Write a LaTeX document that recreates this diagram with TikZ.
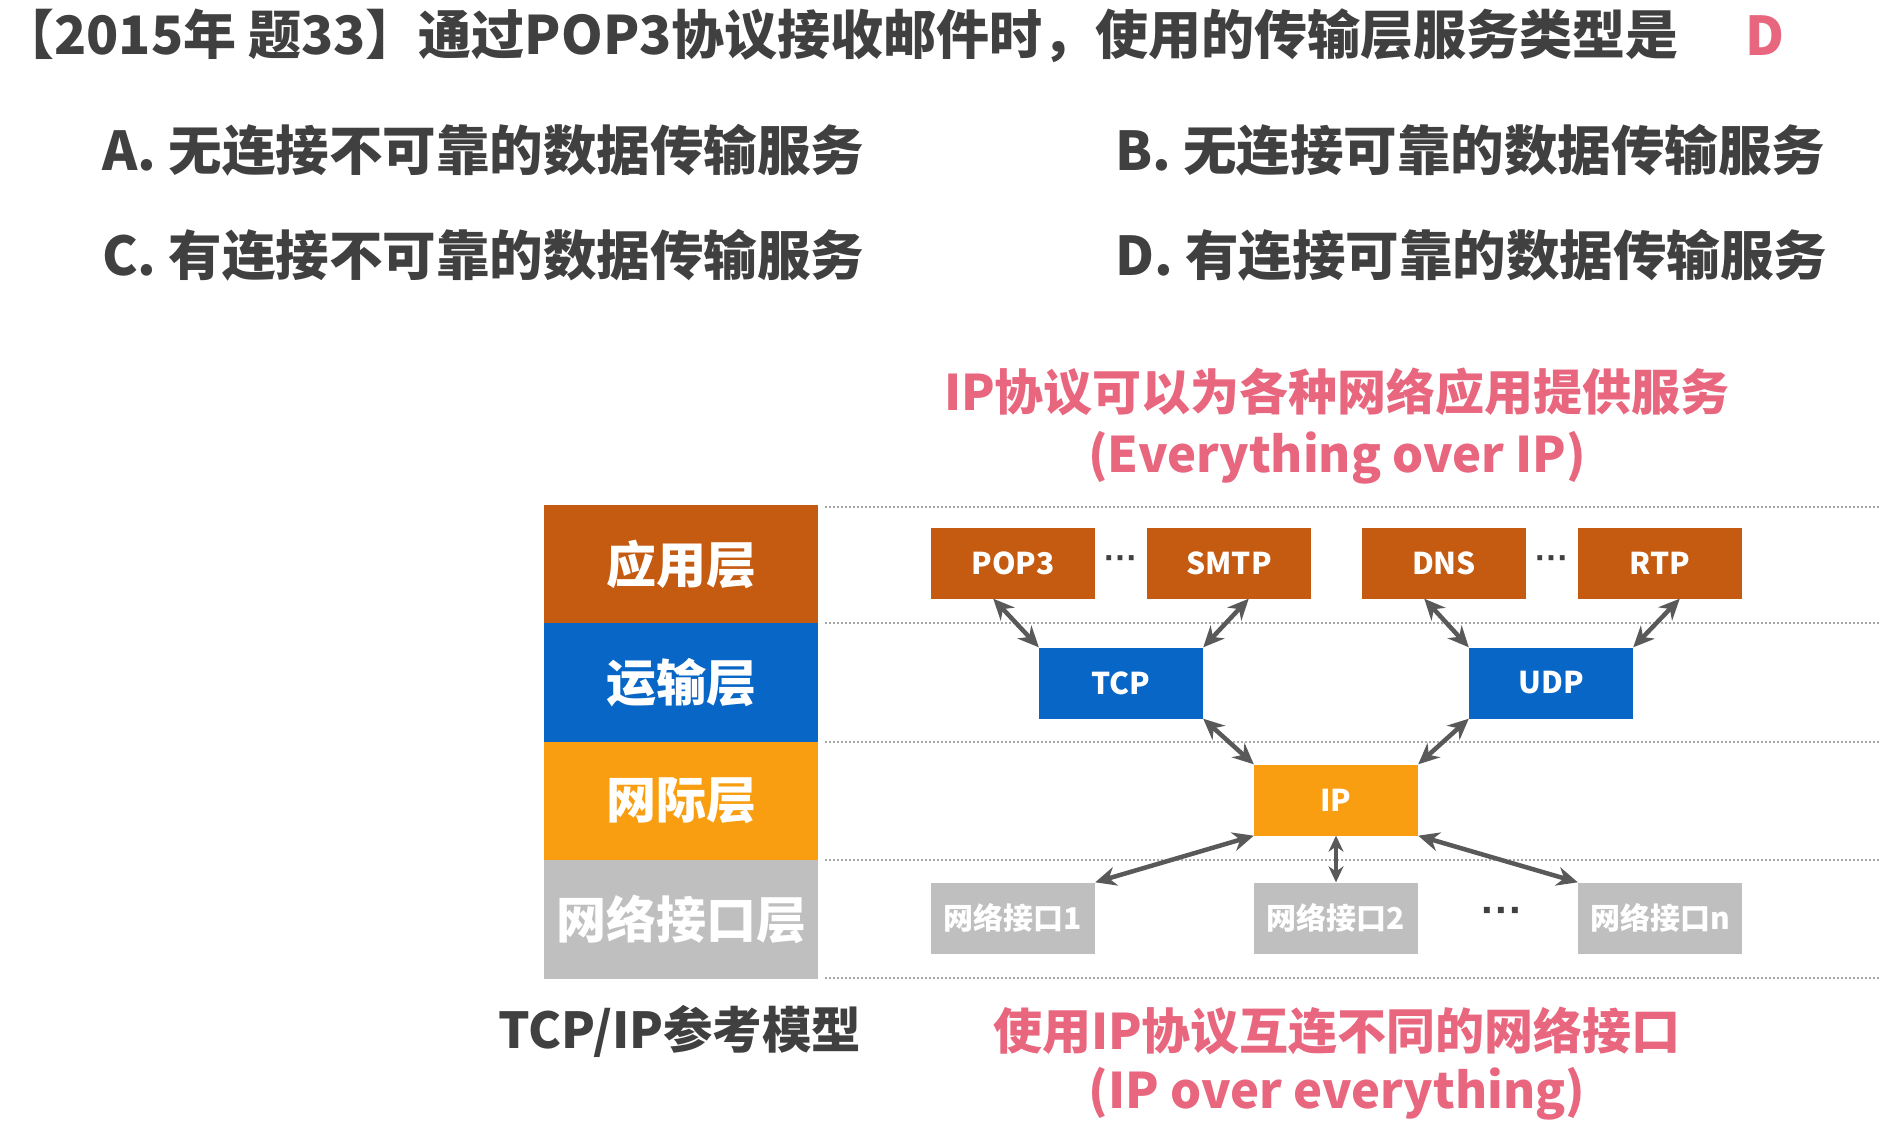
\documentclass[tikz,border=0pt]{standalone}
\usepackage{fontspec}
\setmainfont{Noto Sans CJK SC}
\newfontfamily\latinf{Liberation Sans}
\usetikzlibrary{arrows.meta,calc}
\definecolor{txtgray}{HTML}{404040}
\definecolor{appc}{HTML}{C55A11}
\definecolor{trc}{HTML}{0866C6}
\definecolor{ipc}{HTML}{F99E10}
\definecolor{nic}{HTML}{BFBFBF}
\definecolor{pinkc}{HTML}{E8667E}
\definecolor{arrowc}{HTML}{595959}
\definecolor{dotc}{HTML}{A6A6A6}
\begin{document}
\begin{tikzpicture}[x=1pt,y=-1pt,
  qtext/.style={text=txtgray, font=\fontsize{53.5}{60}\selectfont\bfseries, inner sep=0},
  mtext/.style={text=txtgray, font=\fontsize{49.5}{60}\selectfont\bfseries, inner sep=0},
  ptext/.style={text=pinkc, font=\fontsize{49}{60}\selectfont\bfseries, inner sep=0},
  layer/.style={minimum width=274pt, minimum height=118.5pt, inner sep=0, text=white, font=\fontsize{50}{58}\selectfont\bfseries},
  box/.style={minimum width=164pt, minimum height=71pt, inner sep=0, text=white, font=\fontsize{30}{36}\selectfont\bfseries},
  dots/.style={text=txtgray, font=\latinf\fontsize{34}{36}\selectfont\bfseries, inner sep=0},
  dotline/.style={draw=dotc, line width=1.6pt, dash pattern=on 2pt off 2pt},
  dbl/.style={draw=arrowc, line width=4.5pt, {Stealth[length=21pt,width=19pt]}-{Stealth[length=21pt,width=19pt]}},
  dblsmall/.style={draw=arrowc, line width=3.5pt, {Stealth[length=16pt,width=15pt]}-{Stealth[length=16pt,width=15pt]}}
]
\fill[white] (0,0) rectangle (1880,1133);
\useasboundingbox (0,0) rectangle (1880,1133);

% question
\node[qtext, anchor=west, font=\fontsize{53}{60}\selectfont\bfseries] (title) at (1,36) {【2015年 题33】通过POP3协议接收邮件时，使用的传输层服务类型是};
\node[ptext, font=\fontsize{53.5}{60}\selectfont\bfseries] (ans) at (1765,36) {D};
\node[qtext, anchor=west] (oa) at (102,150) {A. 无连接不可靠的数据传输服务};
\node[qtext, anchor=west] (ob) at (1115,150) {B. 无连接可靠的数据传输服务};
\node[qtext, anchor=west] (oc) at (102,255) {C. 有连接不可靠的数据传输服务};
\node[qtext, anchor=west] (od) at (1115,255) {D. 有连接可靠的数据传输服务};

% top pink text
\node[ptext] (top1) at (1337,392) {IP协议可以为各种网络应用提供服务};
\node[ptext] (top2) at (1337,458) {(Everything over IP)};

% dotted separators
\foreach \yy in {507,623,742,860,978} {
  \draw[dotline] (825,\yy) -- (1880,\yy);
}

% layers
\node[layer, fill=appc] (L1) at (681,564) {应用层};
\node[layer, fill=trc] (L2) at (681,682.5) {运输层};
\node[layer, fill=ipc] (L3) at (681,801) {网际层};
\node[layer, fill=nic] (L4) at (681,919.5) {网络接口层};

% application boxes
\node[box, fill=appc] (pop3) at (1013,563) {POP3};
\node[box, fill=appc] (smtp) at (1229,563) {SMTP};
\node[box, fill=appc] (dns) at (1444,563) {DNS};
\node[box, fill=appc] (rtp) at (1660,563) {RTP};
\node[dots] (d1) at (1121,563) {···};
\node[dots] (d2) at (1552,563) {···};

% transport
\node[box, fill=trc] (tcp) at (1121,683) {TCP};
\node[box, fill=trc] (udp) at (1551,683) {UDP};

% internet
\node[box, fill=ipc] (ip) at (1336,800) {IP};

% network interfaces
\node[box, fill=nic] (n1) at (1013,918) {网络接口1};
\node[box, fill=nic] (n2) at (1336,918) {网络接口2};
\node[box, fill=nic] (nn) at (1660,918) {网络接口n};
\node[dots, font=\latinf\fontsize{42}{44}\selectfont\bfseries] (d3) at (1502,916) {···};

% arrows
\draw[dbl] ($(pop3.south west)!0.38!(pop3.south east)$) -- (tcp.north west);
\draw[dbl] ($(smtp.south west)!0.62!(smtp.south east)$) -- (tcp.north east);
\draw[dbl] ($(dns.south west)!0.38!(dns.south east)$) -- (udp.north west);
\draw[dbl] ($(rtp.south west)!0.62!(rtp.south east)$) -- (udp.north east);
\draw[dbl] (tcp.south east) -- (ip.north west);
\draw[dbl] (udp.south west) -- (ip.north east);
\draw[dbl] (ip.south west) -- (n1.north east);
\draw[dblsmall] (ip.south) -- (n2.north);
\draw[dbl] (ip.south east) -- (nn.north west);

% bottom labels
\node[mtext] (model) at (680,1031) {TCP/IP参考模型};
\node[ptext] (bot1) at (1337,1031) {使用IP协议互连不同的网络接口};
\node[ptext] (bot2) at (1337,1094) {(IP over everything)};
\end{tikzpicture}
\end{document}
